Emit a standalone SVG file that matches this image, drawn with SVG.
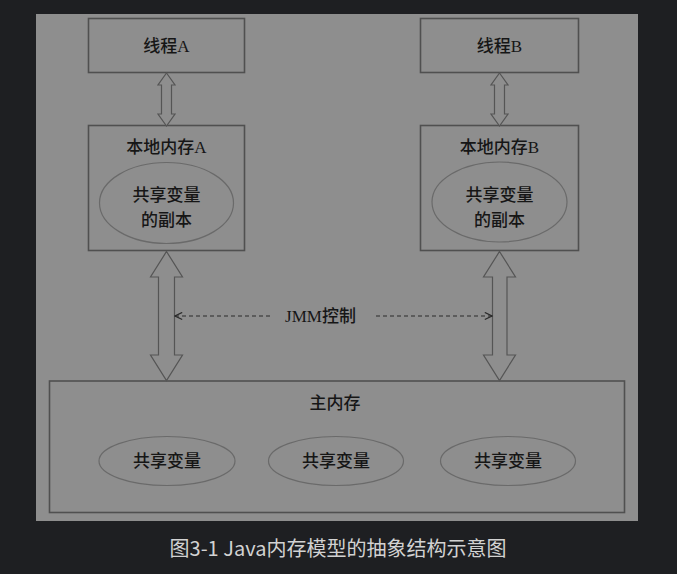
<svg xmlns="http://www.w3.org/2000/svg" width="677" height="574" viewBox="0 0 677 574">
  <defs>
    <style>
      .box { fill: none; stroke: #505050; stroke-width: 1.6; }
      .oval { fill: none; stroke: #6a6a6a; stroke-width: 1.2; }
      .dbl { fill: #8e8e8e; stroke: #555; stroke-width: 1.2; stroke-linejoin: miter; }
      .lbl { font-family: "Liberation Serif", "Noto Sans CJK SC", serif; font-size: 17px; font-weight: 500; fill: #161616; text-anchor: middle; }
      .dash { fill: none; stroke: #2a2a2a; stroke-width: 1.2; stroke-dasharray: 4 3; }
      .caption { font-family: "Noto Sans CJK SC", "Noto Sans", sans-serif; font-size: 20px; fill: #d2d2d2; text-anchor: middle; }
    </style>
    <marker id="chev" viewBox="0 0 10 10" refX="9" refY="5" markerWidth="9" markerHeight="9" markerUnits="userSpaceOnUse" orient="auto-start-reverse">
      <path d="M1,1 L9,5 L1,9" fill="none" stroke="#2a2a2a" stroke-width="1.3"/>
    </marker>
  </defs>

  <!-- page background and figure panel -->
  <rect x="0" y="0" width="677" height="574" fill="#1e1f22"/>
  <rect x="36" y="14" width="602" height="507" fill="#8e8e8e"/>

  <g id="threadA">
    <rect class="box" x="88.5" y="18.5" width="156" height="54"/>
    <text class="lbl" x="166.5" y="52">线程A</text>
  </g>
  <g id="threadB">
    <rect class="box" x="420.5" y="18.5" width="158" height="54"/>
    <text class="lbl" x="499.5" y="52">线程B</text>
  </g>

  <g id="localA">
    <rect class="box" x="88.5" y="125.5" width="156" height="125"/>
    <text class="lbl" x="166.5" y="153">本地内存A</text>
    <ellipse class="oval" cx="166.5" cy="203" rx="67" ry="40.5"/>
    <text class="lbl" x="166.5" y="201">共享变量</text>
    <text class="lbl" x="166.5" y="226">的副本</text>
  </g>
  <g id="localB">
    <rect class="box" x="420.5" y="125.5" width="158" height="125"/>
    <text class="lbl" x="499.5" y="153">本地内存B</text>
    <ellipse class="oval" cx="499.5" cy="202" rx="67.5" ry="40"/>
    <text class="lbl" x="499.5" y="201">共享变量</text>
    <text class="lbl" x="499.5" y="226">的副本</text>
  </g>

  <g id="mainMemory">
    <rect class="box" x="49.5" y="381" width="575" height="131.5"/>
    <text class="lbl" x="335" y="409">主内存</text>
    <ellipse class="oval" cx="167" cy="461" rx="68" ry="24.5"/>
    <text class="lbl" x="167" y="467">共享变量</text>
    <ellipse class="oval" cx="336" cy="461" rx="67.5" ry="24.5"/>
    <text class="lbl" x="336" y="467">共享变量</text>
    <ellipse class="oval" cx="508" cy="461" rx="67.5" ry="24.5"/>
    <text class="lbl" x="508" y="467">共享变量</text>
  </g>

  <g id="connectors">
    <!-- thread <-> local memory -->
    <path class="dbl" d="M166.5,73 L175,85 L171.5,85 L171.5,114 L175,114 L166.5,126 L158,114 L161.5,114 L161.5,85 L158,85 Z"/>
    <path class="dbl" d="M499.5,73 L508,85 L504.5,85 L504.5,114 L508,114 L499.5,126 L491,114 L494.5,114 L494.5,85 L491,85 Z"/>
    <!-- local memory <-> main memory -->
    <path class="dbl" d="M166.5,251.5 L182.5,277 L174.5,277 L174.5,355 L182.5,355 L166.5,380.5 L150.5,355 L158.5,355 L158.5,277 L150.5,277 Z"/>
    <path class="dbl" d="M499.5,251.5 L515.5,277 L507,277 L507,355 L515.5,355 L499.5,380.5 L483.5,355 L492.5,355 L492.5,277 L483.5,277 Z"/>
    <!-- JMM control -->
    <line class="dash" x1="175" y1="316" x2="272" y2="316" marker-start="url(#chev)"/>
    <line class="dash" x1="376" y1="316" x2="492" y2="316" marker-end="url(#chev)"/>
    <text class="lbl" x="320.5" y="322">JMM控制</text>
  </g>

  <text class="caption" x="338" y="556">图3-1 Java内存模型的抽象结构示意图</text>
</svg>
